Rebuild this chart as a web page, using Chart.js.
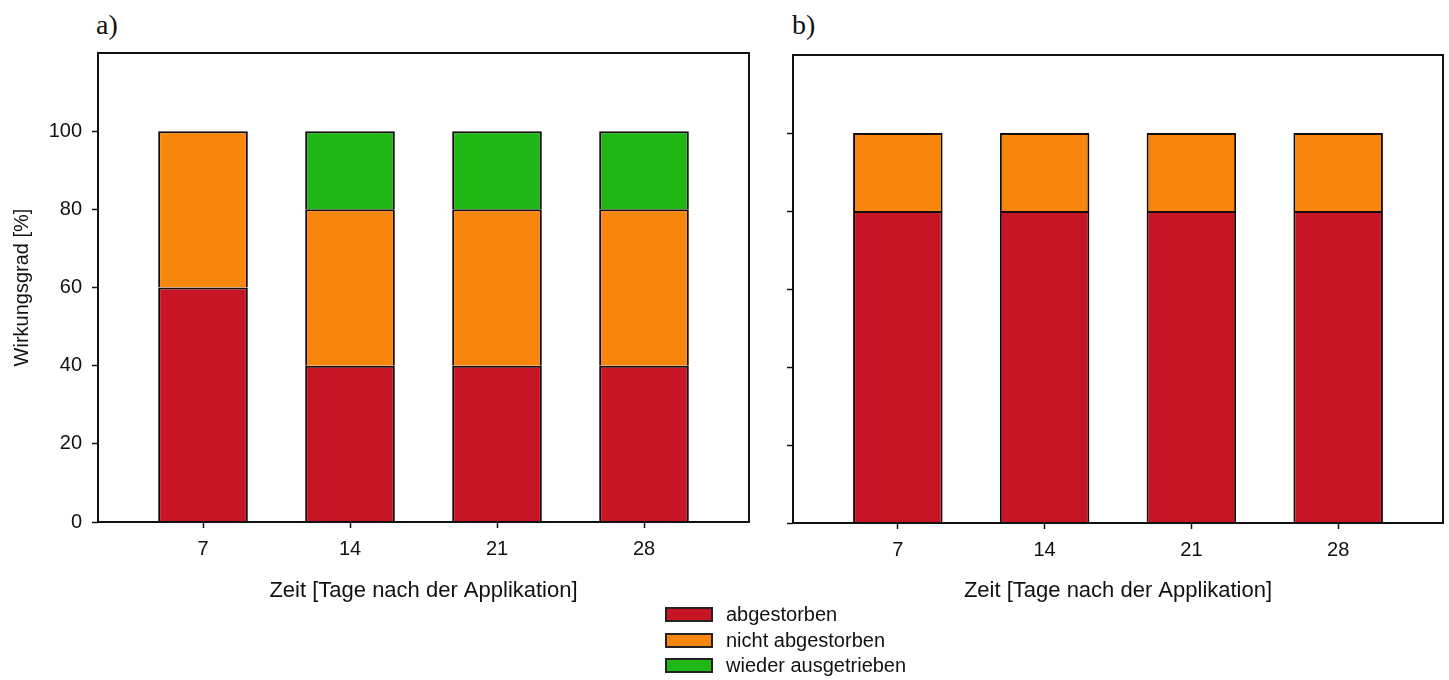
<!DOCTYPE html>
<html>
<head>
<meta charset="utf-8">
<script src="https://cdn.jsdelivr.net/npm/chart.js@4.4.1/dist/chart.umd.min.js"></script>
<style>
    body { margin: 0; width: 1449px; height: 680px; background: #fff; position: relative; overflow: hidden; font-family: "Liberation Sans", Arial, sans-serif; }
    .panel { position: absolute; top: 11px; font-family: "Liberation Serif", "Times New Roman", serif; font-size: 28px; line-height: 28px; color: #111; }
    #wrapA { position: absolute; left: 0; top: 0; width: 770px; height: 610px; }
    #wrapB { position: absolute; left: 770px; top: 0; width: 679px; height: 610px; }
    #legend { position: absolute; left: 665px; top: 602px; font-size: 20px; color: #111; }
    #legend div { display: flex; align-items: center; height: 25.5px; }
    #legend .box { width: 48px; height: 15px; box-sizing: border-box; border: 2px solid #222; margin-right: 13px; }
</style>
</head>
<body>
<div class="panel" style="left:96px">a)</div>
<div class="panel" style="left:792px">b)</div>
<div id="wrapA"><canvas id="chartA" width="770" height="610"></canvas></div>
<div id="wrapB"><canvas id="chartB" width="679" height="610"></canvas></div>
<div id="legend"></div>

<script>
const days = [7, 14, 21, 28];
const seriesNames = ["abgestorben", "nicht abgestorben", "wieder ausgetrieben"];
const seriesColors = ["#C81526", "#F8860C", "#1EB716"];

// panel a
const aDead = [60, 40, 40, 40];
const aAlive = [40, 40, 40, 40];
const aResprout = [null, 20, 20, 20];

// panel b
const bDead = [80, 80, 80, 80];
const bAlive = [20, 20, 20, 20];
const bResprout = [null, null, null, null];

const yTicks = [0, 20, 40, 60, 80, 100];
const xMin = 2, xMax = 33, yMax = 120;
const xTitle = "Zeit [Tage nach der Applikation]";
const yTitle = "Wirkungsgrad [%]";

Chart.defaults.font.family = '"Liberation Sans", Arial, sans-serif';
Chart.defaults.color = "#111";

const frame = {
    id: "frame",
    afterDatasetsDraw(chart) {
        const { ctx, chartArea: a } = chart;
        ctx.save();
        ctx.strokeStyle = "#111";
        ctx.lineWidth = 2;
        ctx.strokeRect(a.left, a.top, a.right - a.left, a.bottom - a.top);
        ctx.restore();
    },
};

const tickGrid = { display: true, offset: false, drawOnChartArea: false, drawTicks: true, tickLength: 6, tickColor: "#111", tickWidth: 1.5 };

function renderPanel(id, series, o) {
    new Chart(document.getElementById(id), {
        type: "bar",
        data: {
            datasets: series.map((vals, i) => ({
                label: seriesNames[i],
                data: days.map((d, j) => ({ x: d, y: vals[j] })),
                backgroundColor: seriesColors[i],
                borderColor: "#140c0c", borderWidth: 2, borderSkipped: "start",
                categoryPercentage: 1, barPercentage: 0.61,
            })),
        },
        options: {
            responsive: false, animation: false,
            layout: { padding: { top: o.top, right: o.right, left: 0, bottom: 0 } },
            scales: {
                x: {
                    type: "linear", min: xMin, max: xMax, stacked: true, offset: false,
                    afterBuildTicks: s => { s.ticks = days.map(v => ({ value: v })); },
                    afterFit: s => { s.height = o.xHeight; },
                    grid: tickGrid, border: { display: false },
                    ticks: { font: { size: 20 }, padding: 9 },
                    title: { display: true, text: xTitle, font: { size: 22 }, padding: { top: 0, bottom: 6 } },
                },
                y: {
                    min: 0, max: yMax, stacked: true,
                    afterBuildTicks: s => { s.ticks = yTicks.map(v => ({ value: v })); },
                    afterFit: s => { s.width = o.yWidth; },
                    grid: tickGrid, border: { display: false },
                    ticks: { display: o.labels, font: { size: 20 }, padding: 10 },
                    title: { display: o.labels, text: yTitle, font: { size: 20 }, padding: { top: 10, bottom: 0 } },
                },
            },
            plugins: { legend: { display: false }, tooltip: { enabled: false } },
        },
        plugins: [frame],
    });
}

renderPanel("chartA", [aDead, aAlive, aResprout], { top: 53, right: 21, xHeight: 88, yWidth: 98, labels: true });
renderPanel("chartB", [bDead, bAlive, bResprout], { top: 55, right: 6, xHeight: 87, yWidth: 23, labels: false });

const legend = document.getElementById("legend");
seriesNames.forEach((name, i) => {
    const row = document.createElement("div");
    const box = document.createElement("span");
    box.className = "box";
    box.style.background = seriesColors[i];
    row.appendChild(box);
    row.appendChild(document.createTextNode(name));
    legend.appendChild(row);
});
</script>
</body>
</html>
